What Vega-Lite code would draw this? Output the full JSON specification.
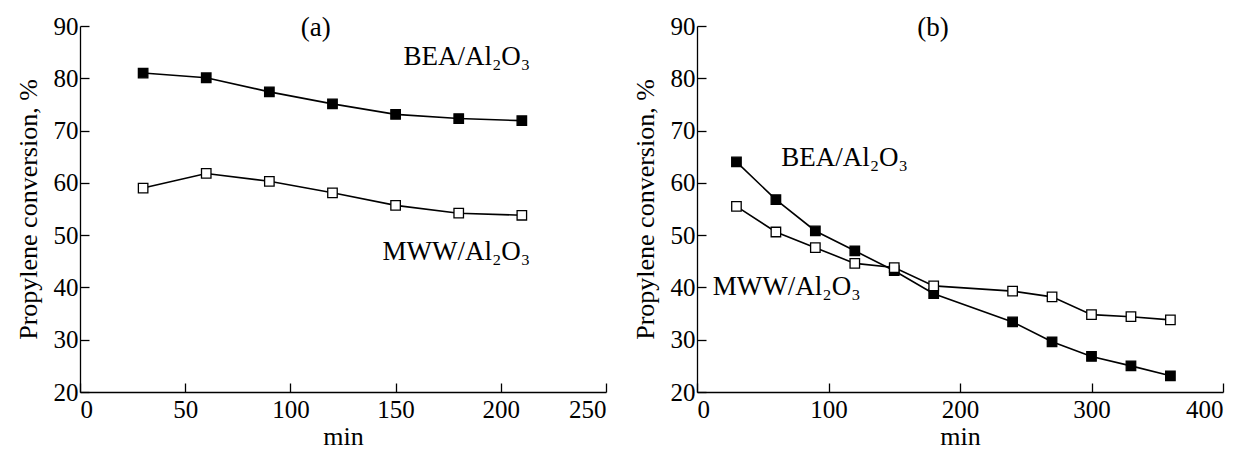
{
  "$schema": "https://vega.github.io/schema/vega-lite/v6.json",
  "background": "white",
  "padding": {"left": 15, "top": 14, "right": 5, "bottom": 5},
  "spacing": 25,
  "config": {
    "font": "Liberation Serif",
    "view": {"stroke": null},
    "axis": {
      "grid": false,
      "domainColor": "black",
      "domainWidth": 1.3,
      "tickColor": "black",
      "tickWidth": 1.3,
      "tickSize": -9,
      "labelColor": "black",
      "titleColor": "black",
      "labelFont": "Liberation Serif",
      "titleFont": "Liberation Serif",
      "labelFontSize": 25,
      "titleFontSize": 26,
      "titleFontWeight": "normal"
    },
    "axisX": {"labelPadding": 14, "titlePadding": 1},
    "axisY": {"labelPadding": 11, "titlePadding": 12}
  },
  "datasets": {
    "pts": [
      {"panel": "a", "series": "BEA", "t": 30, "v": 81.0},
      {"panel": "a", "series": "BEA", "t": 60, "v": 80.1},
      {"panel": "a", "series": "BEA", "t": 90, "v": 77.4},
      {"panel": "a", "series": "BEA", "t": 120, "v": 75.1},
      {"panel": "a", "series": "BEA", "t": 150, "v": 73.1},
      {"panel": "a", "series": "BEA", "t": 180, "v": 72.3},
      {"panel": "a", "series": "BEA", "t": 210, "v": 71.9},
      {"panel": "a", "series": "MWW", "t": 30, "v": 59.0},
      {"panel": "a", "series": "MWW", "t": 60, "v": 61.8},
      {"panel": "a", "series": "MWW", "t": 90, "v": 60.3},
      {"panel": "a", "series": "MWW", "t": 120, "v": 58.1},
      {"panel": "a", "series": "MWW", "t": 150, "v": 55.7},
      {"panel": "a", "series": "MWW", "t": 180, "v": 54.2},
      {"panel": "a", "series": "MWW", "t": 210, "v": 53.8},
      {"panel": "b", "series": "BEA", "t": 30, "v": 64.0},
      {"panel": "b", "series": "BEA", "t": 60, "v": 56.8},
      {"panel": "b", "series": "BEA", "t": 90, "v": 50.8},
      {"panel": "b", "series": "BEA", "t": 120, "v": 47.0},
      {"panel": "b", "series": "BEA", "t": 150, "v": 43.2},
      {"panel": "b", "series": "BEA", "t": 180, "v": 38.8},
      {"panel": "b", "series": "BEA", "t": 240, "v": 33.4},
      {"panel": "b", "series": "BEA", "t": 270, "v": 29.6},
      {"panel": "b", "series": "BEA", "t": 300, "v": 26.8},
      {"panel": "b", "series": "BEA", "t": 330, "v": 25.0},
      {"panel": "b", "series": "BEA", "t": 360, "v": 23.1},
      {"panel": "b", "series": "MWW", "t": 30, "v": 55.5},
      {"panel": "b", "series": "MWW", "t": 60, "v": 50.6},
      {"panel": "b", "series": "MWW", "t": 90, "v": 47.6},
      {"panel": "b", "series": "MWW", "t": 120, "v": 44.6},
      {"panel": "b", "series": "MWW", "t": 150, "v": 43.8},
      {"panel": "b", "series": "MWW", "t": 180, "v": 40.3},
      {"panel": "b", "series": "MWW", "t": 240, "v": 39.3},
      {"panel": "b", "series": "MWW", "t": 270, "v": 38.2},
      {"panel": "b", "series": "MWW", "t": 300, "v": 34.8},
      {"panel": "b", "series": "MWW", "t": 330, "v": 34.4},
      {"panel": "b", "series": "MWW", "t": 360, "v": 33.8}
    ],
    "labels": [
      {"panel": "a", "t": 112, "v": 89.6, "text": "(a)", "align": "center"},
      {"panel": "a", "t": 214, "v": 84.0, "text": "BEA/Al₂O₃", "align": "right"},
      {"panel": "a", "t": 214, "v": 46.8, "text": "MWW/Al₂O₃", "align": "right"},
      {"panel": "b", "t": 179.5, "v": 89.6, "text": "(b)", "align": "center"},
      {"panel": "b", "t": 64, "v": 64.8, "text": "BEA/Al₂O₃", "align": "left"},
      {"panel": "b", "t": 12, "v": 40.0, "text": "MWW/Al₂O₃", "align": "left"}
    ]
  },
  "hconcat": [
    {
      "width": 526,
      "height": 366,
      "layer": [
        {
          "data": {"name": "pts"},
          "transform": [{"filter": "datum.panel == 'a'"}],
          "mark": {"type": "line", "color": "black", "strokeWidth": 1.6},
          "encoding": {
            "x": {"field": "t", "type": "quantitative", "scale": {"domain": [0, 250], "nice": false}, "axis": {"values": [0, 50, 100, 150, 200, 250], "title": "min"}},
            "y": {"field": "v", "type": "quantitative", "scale": {"domain": [20, 90], "nice": false}, "axis": {"values": [20, 30, 40, 50, 60, 70, 80, 90], "title": "Propylene conversion, %"}},
            "detail": {"field": "series", "type": "nominal"}
          }
        },
        {
          "data": {"name": "pts"},
          "transform": [{"filter": "datum.panel == 'a'"}],
          "mark": {"type": "point", "shape": "square", "filled": true, "size": 90, "stroke": "black", "strokeWidth": 1.3, "opacity": 1},
          "encoding": {
            "x": {"field": "t", "type": "quantitative"},
            "y": {"field": "v", "type": "quantitative"},
            "fill": {"field": "series", "type": "nominal", "scale": {"domain": ["BEA", "MWW"], "range": ["black", "white"]}, "legend": null}
          }
        },
        {
          "data": {"name": "labels"},
          "transform": [{"filter": "datum.panel == 'a' && datum.align == 'center'"}],
          "mark": {"type": "text", "font": "Liberation Serif", "fontSize": 27, "color": "black", "baseline": "middle", "align": "center"},
          "encoding": {
            "x": {"field": "t", "type": "quantitative"},
            "y": {"field": "v", "type": "quantitative"},
            "text": {"field": "text"}
          }
        },
        {
          "data": {"name": "labels"},
          "transform": [{"filter": "datum.panel == 'a' && datum.align == 'right'"}],
          "mark": {"type": "text", "font": "Liberation Serif", "fontSize": 27, "color": "black", "baseline": "middle", "align": "right"},
          "encoding": {
            "x": {"field": "t", "type": "quantitative"},
            "y": {"field": "v", "type": "quantitative"},
            "text": {"field": "text"}
          }
        }
      ]
    },
    {
      "width": 526,
      "height": 366,
      "layer": [
        {
          "data": {"name": "pts"},
          "transform": [{"filter": "datum.panel == 'b'"}],
          "mark": {"type": "line", "color": "black", "strokeWidth": 1.6},
          "encoding": {
            "x": {"field": "t", "type": "quantitative", "scale": {"domain": [0, 400], "nice": false}, "axis": {"values": [0, 100, 200, 300, 400], "title": "min"}},
            "y": {"field": "v", "type": "quantitative", "scale": {"domain": [20, 90], "nice": false}, "axis": {"values": [20, 30, 40, 50, 60, 70, 80, 90], "title": "Propylene conversion, %"}},
            "detail": {"field": "series", "type": "nominal"}
          }
        },
        {
          "data": {"name": "pts"},
          "transform": [{"filter": "datum.panel == 'b'"}],
          "mark": {"type": "point", "shape": "square", "filled": true, "size": 90, "stroke": "black", "strokeWidth": 1.3, "opacity": 1},
          "encoding": {
            "x": {"field": "t", "type": "quantitative"},
            "y": {"field": "v", "type": "quantitative"},
            "fill": {"field": "series", "type": "nominal", "scale": {"domain": ["BEA", "MWW"], "range": ["black", "white"]}, "legend": null}
          }
        },
        {
          "data": {"name": "labels"},
          "transform": [{"filter": "datum.panel == 'b' && datum.align == 'center'"}],
          "mark": {"type": "text", "font": "Liberation Serif", "fontSize": 27, "color": "black", "baseline": "middle", "align": "center"},
          "encoding": {
            "x": {"field": "t", "type": "quantitative"},
            "y": {"field": "v", "type": "quantitative"},
            "text": {"field": "text"}
          }
        },
        {
          "data": {"name": "labels"},
          "transform": [{"filter": "datum.panel == 'b' && datum.align == 'left'"}],
          "mark": {"type": "text", "font": "Liberation Serif", "fontSize": 27, "color": "black", "baseline": "middle", "align": "left"},
          "encoding": {
            "x": {"field": "t", "type": "quantitative"},
            "y": {"field": "v", "type": "quantitative"},
            "text": {"field": "text"}
          }
        }
      ]
    }
  ]
}
